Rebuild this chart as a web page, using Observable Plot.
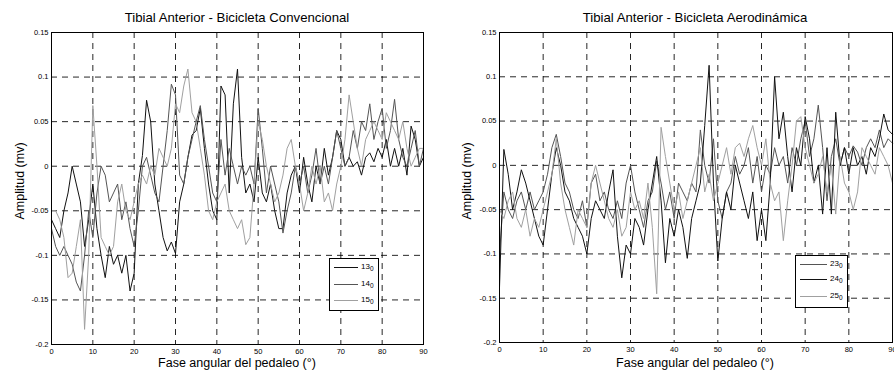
<!DOCTYPE html>
<html>
<head>
<meta charset="utf-8">
<script src="https://cdn.jsdelivr.net/npm/d3@7"></script>
<script src="https://cdn.jsdelivr.net/npm/@observablehq/plot@0.6"></script>
<style>
  html, body { margin: 0; padding: 0; background: #fff; }
  #wrap { position: relative; width: 894px; height: 370px; overflow: hidden; font-family: "Liberation Sans", Arial, sans-serif; color: #000; }
  .panel { position: absolute; top: 0; }
  .title { position: absolute; font-size: 13.2px; white-space: nowrap; transform: translateX(-50%); }
  .xlabel { position: absolute; font-size: 12.5px; line-height: 12px; white-space: nowrap; transform: translateX(-50%); }
  .ylabel { position: absolute; font-size: 12.5px; white-space: nowrap; transform: translate(-50%, -50%) rotate(-90deg); }
  .legend { position: absolute; background: #fff; border: 1.5px solid #000; box-sizing: border-box; }
  .legend .row { position: absolute; left: 0; display: flex; align-items: center; font-size: 8px; }
  .legend .sw { display: inline-block; height: 0; border-top-width: 1.3px; border-top-style: solid; }
  .legend sub { font-size: 6.5px; vertical-align: -2px; }
</style>
</head>
<body>
<div id="wrap"></div>
<script>
// ---------- data ----------
const angles = [0,1,2,3,4,5,6,7,8,9,10,11,12,13,14,15,16,17,18,19,20,21,22,23,24,25,26,27,28,29,30,31,32,33,34,35,36,37,38,39,40,41,42,43,44,45,46,47,48,49,50,51,52,53,54,55,56,57,58,59,60,61,62,63,64,65,66,67,68,69,70,71,72,73,74,75,76,77,78,79,80,81,82,83,84,85,86,87,88,89,90];

// Bicicleta Convencional
const conv13 = [-0.06,-0.07,-0.08,-0.05,-0.03,0.0,-0.02,-0.04,-0.09,-0.06,-0.02,-0.07,-0.10,-0.125,-0.09,-0.11,-0.10,-0.12,-0.10,-0.14,-0.12,-0.02,0.012,0.074,0.05,-0.02,-0.05,-0.08,-0.095,-0.085,-0.098,-0.04,-0.02,0.01,0.035,0.04,0.065,0.02,-0.02,-0.05,-0.06,0.09,0.08,-0.03,0.07,0.109,0.01,-0.03,-0.02,-0.04,0.01,-0.03,-0.04,-0.02,-0.05,-0.07,-0.07,-0.03,-0.01,0.0,-0.03,0.01,-0.02,-0.04,0.0,-0.02,0.02,-0.01,0.01,0.04,0.03,0.0,0.01,0.0,0.005,-0.01,0.01,0.015,0.005,0.02,0.01,0.03,0.0,0.02,0.0,0.02,-0.01,0.045,0.03,0.0,0.01];
const conv14 = [-0.07,-0.09,-0.10,-0.09,-0.10,-0.11,-0.13,-0.14,-0.10,-0.05,-0.08,-0.03,0.0,-0.01,-0.04,-0.03,-0.02,-0.06,-0.04,-0.07,-0.09,-0.05,0.0,0.01,-0.01,-0.03,-0.04,0.0,0.04,0.092,0.08,-0.01,-0.02,0.01,0.03,0.05,0.068,0.03,0.0,-0.03,-0.04,0.03,-0.01,0.02,0.0,-0.02,0.0,-0.01,0.0,-0.02,0.065,0.02,-0.03,0.0,-0.02,-0.04,-0.075,-0.05,-0.03,0.0,-0.02,0.0,-0.03,-0.01,0.02,-0.02,0.0,-0.02,0.01,0.04,0.02,0.0,0.01,0.04,0.02,0.05,0.04,0.07,0.03,0.05,0.065,0.02,0.04,0.075,0.03,0.01,0.0,0.02,0.04,0.0,0.02];
const conv15 = [-0.05,-0.05,-0.06,-0.08,-0.125,-0.12,-0.09,-0.06,-0.183,-0.10,0.068,0.0,-0.08,-0.09,-0.10,-0.09,-0.04,-0.02,-0.05,-0.06,-0.04,-0.02,-0.01,-0.02,0.0,-0.01,0.02,0.01,0.0,0.02,0.07,0.06,0.09,0.109,0.06,0.05,0.02,-0.01,-0.05,-0.06,-0.04,-0.03,-0.02,-0.05,-0.06,-0.07,-0.06,-0.088,-0.08,-0.02,0.05,0.03,0.0,-0.02,-0.04,-0.03,-0.01,0.02,0.03,0.0,-0.02,-0.05,-0.03,0.0,-0.02,0.0,-0.04,-0.03,-0.05,-0.02,0.0,0.03,0.08,0.05,0.02,0.0,0.03,0.04,0.05,0.04,0.03,0.06,0.05,0.04,0.03,0.05,0.02,0.0,0.01,0.02,0.02];

// Bicicleta Aerodinámica
const aero23 = [-0.1,-0.03,-0.05,-0.06,-0.04,-0.03,-0.05,-0.03,-0.05,-0.04,-0.03,-0.01,0.02,0.035,0.01,-0.02,-0.03,-0.05,-0.06,-0.04,-0.07,-0.02,-0.01,-0.04,-0.03,-0.05,-0.06,-0.04,-0.06,-0.02,0.0,-0.03,-0.05,-0.07,-0.04,-0.03,0.005,-0.02,-0.05,-0.03,-0.06,-0.02,-0.03,-0.04,-0.02,-0.03,0.04,0.0,-0.02,0.03,-0.04,-0.06,-0.03,-0.02,0.01,-0.01,0.0,0.02,-0.02,0.01,-0.03,0.0,-0.01,0.02,0.0,0.01,-0.02,0.02,0.0,0.03,0.05,0.01,0.03,0.068,0.02,-0.04,0.01,0.03,0.0,0.02,0.01,0.022,0.015,0.0,0.02,0.03,0.02,0.04,0.02,0.03,0.025];
const aero24 = [-0.138,0.018,-0.01,-0.05,-0.03,-0.005,-0.02,-0.04,-0.06,-0.08,-0.09,-0.05,-0.01,0.02,0.0,-0.03,-0.04,-0.06,-0.07,-0.08,-0.1,-0.06,-0.04,-0.05,-0.06,-0.03,-0.005,-0.08,-0.127,-0.09,-0.1,-0.06,-0.07,-0.09,-0.05,-0.02,0.01,-0.04,-0.11,-0.06,-0.08,-0.05,-0.07,-0.105,-0.06,-0.04,-0.02,0.045,0.113,-0.02,-0.108,-0.06,-0.03,-0.05,0.0,-0.02,-0.04,-0.06,-0.03,-0.085,-0.05,-0.085,-0.02,0.1,0.03,0.06,0.01,-0.03,0.02,0.0,0.055,0.03,-0.02,0.0,-0.055,0.02,-0.055,0.06,0.0,0.02,-0.01,0.02,0.0,0.01,-0.01,0.02,0.01,0.03,0.058,0.04,0.035];
const aero25 = [-0.05,-0.06,-0.04,-0.03,-0.06,-0.07,-0.05,-0.08,-0.06,-0.07,-0.05,-0.03,-0.01,0.03,-0.02,-0.05,-0.07,-0.09,-0.05,-0.06,-0.07,-0.02,0.0,-0.02,-0.04,-0.06,-0.07,-0.05,-0.08,-0.07,-0.03,-0.05,-0.04,-0.06,-0.02,-0.07,-0.145,0.043,0.01,-0.02,-0.05,-0.03,-0.06,-0.04,-0.02,0.0,0.02,-0.03,-0.01,-0.04,-0.02,0.0,0.02,-0.01,0.02,0.025,0.01,0.03,0.045,0.02,0.0,0.03,-0.02,-0.04,-0.03,-0.085,-0.04,0.0,0.05,0.055,0.02,0.0,-0.02,-0.01,0.01,-0.03,0.0,-0.055,0.01,-0.02,-0.03,-0.05,-0.03,0.02,0.01,0.0,-0.01,0.02,0.01,0.0,-0.02];

const convNames = ["13", "14", "15"];
const aeroNames = ["23", "24", "25"];
const convColors = ["#111111", "#555555", "#a0a0a0"];
const aeroColors = ["#555555", "#111111", "#a0a0a0"];

const xTicks = [0,10,20,30,40,50,60,70,80,90];
const yTicks = [-0.2,-0.15,-0.1,-0.05,0,0.05,0.1,0.15];
const yTickLabels = ["-0.2","-0.15","-0.1","-0.05","0","0.05","0.1","0.15"];

const titles = ["Tibial Anterior - Bicicleta Convencional", "Tibial Anterior - Bicicleta Aerodinámica"];
const xLabel = "Fase angular del pedaleo (°)";
const yLabel = "Amplitud (mv)";

// ---------- drawing ----------
const wrap = document.getElementById("wrap");

function rowsOf(seriesList, names) {
  const rows = [];
  seriesList.forEach((vals, k) => vals.forEach((v, i) => rows.push({angle: angles[i], value: v, series: names[k]})));
  return rows;
}

function makePanel(cfg) {
  const rows = rowsOf(cfg.series, cfg.names);
  const chart = Plot.plot({
    width: cfg.width,
    height: 370,
    marginLeft: cfg.marginLeft,
    marginRight: cfg.marginRight,
    marginTop: 32,
    marginBottom: cfg.marginBottom,
    style: {fontFamily: "'Liberation Sans', Arial, sans-serif", fontSize: "7.5px", background: "transparent", color: "#000", overflow: "visible"},
    x: {domain: [0, 90]},
    y: {domain: [-0.2, 0.15]},
    color: {domain: cfg.names, range: cfg.colors},
    marks: [
      Plot.gridX(xTicks, {stroke: "#000", strokeOpacity: 0.85, strokeWidth: 1, strokeDasharray: "6,5"}),
      Plot.gridY(yTicks, {stroke: "#000", strokeOpacity: 0.85, strokeWidth: 1, strokeDasharray: "6,5"}),
      Plot.line(rows, {x: "angle", y: "value", z: "series", stroke: "series", strokeWidth: 1}),
      Plot.frame({stroke: "#000", strokeWidth: 1}),
      Plot.axisX(xTicks, {tickSize: 0, tickPadding: 4, label: null}),
      Plot.axisY(yTicks, {tickSize: 0, tickPadding: 3, label: null, tickFormat: d => yTickLabels[yTicks.indexOf(d)]})
    ]
  });
  chart.classList.add("panel");
  chart.style.left = cfg.left + "px";
  wrap.appendChild(chart);

  const t = document.createElement("div");
  t.className = "title"; t.textContent = cfg.title;
  t.style.left = cfg.center + "px"; t.style.top = "10px";
  wrap.appendChild(t);

  const xl = document.createElement("div");
  xl.className = "xlabel"; xl.textContent = xLabel;
  xl.style.left = cfg.center + "px"; xl.style.top = "357px";
  wrap.appendChild(xl);

  const yl = document.createElement("div");
  yl.className = "ylabel"; yl.textContent = yLabel;
  yl.style.left = cfg.ylabelX + "px"; yl.style.top = "181px";
  wrap.appendChild(yl);

  const lg = document.createElement("div");
  lg.className = "legend";
  Object.assign(lg.style, {left: cfg.legend.x + "px", top: cfg.legend.y + "px", width: cfg.legend.w + "px", height: cfg.legend.h + "px"});
  cfg.names.forEach((n, k) => {
    const r = document.createElement("div");
    r.className = "row";
    r.style.top = (cfg.legend.rowY[k] - 6) + "px";
    r.style.left = cfg.legend.swX + "px";
    const sw = document.createElement("span");
    sw.className = "sw";
    sw.style.width = cfg.legend.swW + "px";
    sw.style.borderTopColor = cfg.colors[k];
    sw.style.marginRight = "3px";
    const lab = document.createElement("span");
    lab.innerHTML = n + "<sub>0</sub>";
    r.appendChild(sw); r.appendChild(lab);
    lg.appendChild(r);
  });
  wrap.appendChild(lg);
}

makePanel({
  series: [conv13, conv14, conv15], names: convNames, colors: convColors,
  title: titles[0], left: 0, width: 430, marginLeft: 51, marginRight: 7, marginBottom: 26,
  center: 237, ylabelX: 20,
  legend: {x: 329, y: 258, w: 50, h: 53, swX: 4, swW: 24, rowY: [9, 26, 42]}
});

makePanel({
  series: [aero23, aero24, aero25], names: aeroNames, colors: aeroColors,
  title: titles[1], left: 447, width: 460, marginLeft: 52, marginRight: 15, marginBottom: 28,
  center: 695, ylabelX: 467,
  legend: {x: 795, y: 255, w: 53, h: 53, swX: 4, swW: 27, rowY: [9, 24, 41]}
});
</script>
</body>
</html>
